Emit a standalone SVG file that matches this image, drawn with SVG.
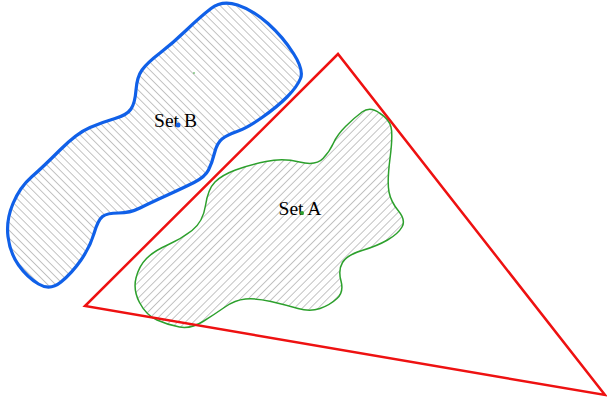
<svg xmlns="http://www.w3.org/2000/svg" width="607" height="404" viewBox="0 0 607 404">
<style>
.lbl{font-family:"Liberation Serif","Times New Roman",serif;font-size:19.5px;fill:#000;text-anchor:middle}
.hl{stroke:#888;stroke-width:1}
</style>
<defs>
<pattern id="hatchB" patternUnits="userSpaceOnUse" width="5.6" height="10" patternTransform="rotate(-45)">
<line class="hl" x1="0" y1="0" x2="0" y2="10"/>
</pattern>
<pattern id="hatchA" patternUnits="userSpaceOnUse" width="5.6" height="10" patternTransform="rotate(45)">
<line class="hl" x1="0" y1="0" x2="0" y2="10"/>
</pattern>
</defs>
<rect width="607" height="404" fill="#fff"/>
<g id="setB">
<path d="M 237.5,5 Q 253,10 268,23.5 Q 283,37 293.5,53.5 Q 304,70 300.5,78.5 Q 297,87 287,97 Q 277,107 262,117.5 Q 247,128 237,131.5 Q 227,135 222,139 Q 217,143 214.5,153 Q 212,163 208.5,170 Q 205,177 194,182.5 Q 183,188 166.5,195.5 Q 150,203 140,208 Q 130,213 118.5,213 Q 107,213 102.5,216.5 Q 98,220 94,233.5 Q 90,247 81,260 Q 72,273 61,282 Q 50,291 38.5,284 Q 27,277 18.5,265 Q 10,253 8,236.5 Q 6,220 13,203.5 Q 20,187 31.5,177 Q 43,167 60,150 Q 77,133 90,127.5 Q 103,122 115,118.5 Q 127,115 131,109 Q 135,103 136,90 Q 137,77 142,70 Q 147,63 160,53 Q 173,43 186.5,30 Q 200,17 211,8.5 Q 222,0 237.5,5 Z" fill="url(#hatchB)" stroke="#1060e8" stroke-width="3.2"/>
<circle cx="194" cy="73" r="0.8" fill="#2ca02c"/>
<text class="lbl" x="175.5" y="127">Set B</text>
<circle cx="178" cy="125" r="2.5" fill="#1060e8"/>
</g>
<g id="setA">
<path d="M 379.5,113 Q 389,119 391,127 Q 393,135 390,158.5 Q 387,182 389,192 Q 391,202 398.5,211 Q 406,220 402,227 Q 398,234 387.5,240 Q 377,246 362,250.5 Q 347,255 342.5,262.5 Q 338,270 341,281 Q 344,292 337,298.5 Q 330,305 320,308.5 Q 310,312 298,308.5 Q 286,305 271,301.5 Q 256,298 245.5,299 Q 235,300 225,307 Q 215,314 203,321.5 Q 191,329 179.5,327 Q 168,325 157,320 Q 146,315 139.5,302.5 Q 133,290 136,278 Q 139,266 146.5,258.5 Q 154,251 167.5,245 Q 181,239 192,230.5 Q 203,222 205.5,205.5 Q 208,189 215,182 Q 222,175 235.5,170 Q 249,165 266,161.5 Q 283,158 299.5,162 Q 316,166 323,158.5 Q 330,151 333.5,143 Q 337,135 345.5,126.5 Q 354,118 362,112 Q 370,106 379.5,113 Z" fill="url(#hatchA)" stroke="#2ca02c" stroke-width="1.5"/>
<text class="lbl" x="300" y="215">Set A</text>
<circle cx="302" cy="213" r="2" fill="#2ca02c"/>
</g>
<g id="triangle">
<polygon points="338,54 85,306 605,395" fill="none" stroke="#ee1111" stroke-width="2.5" stroke-linejoin="miter"/>
</g>
</svg>
